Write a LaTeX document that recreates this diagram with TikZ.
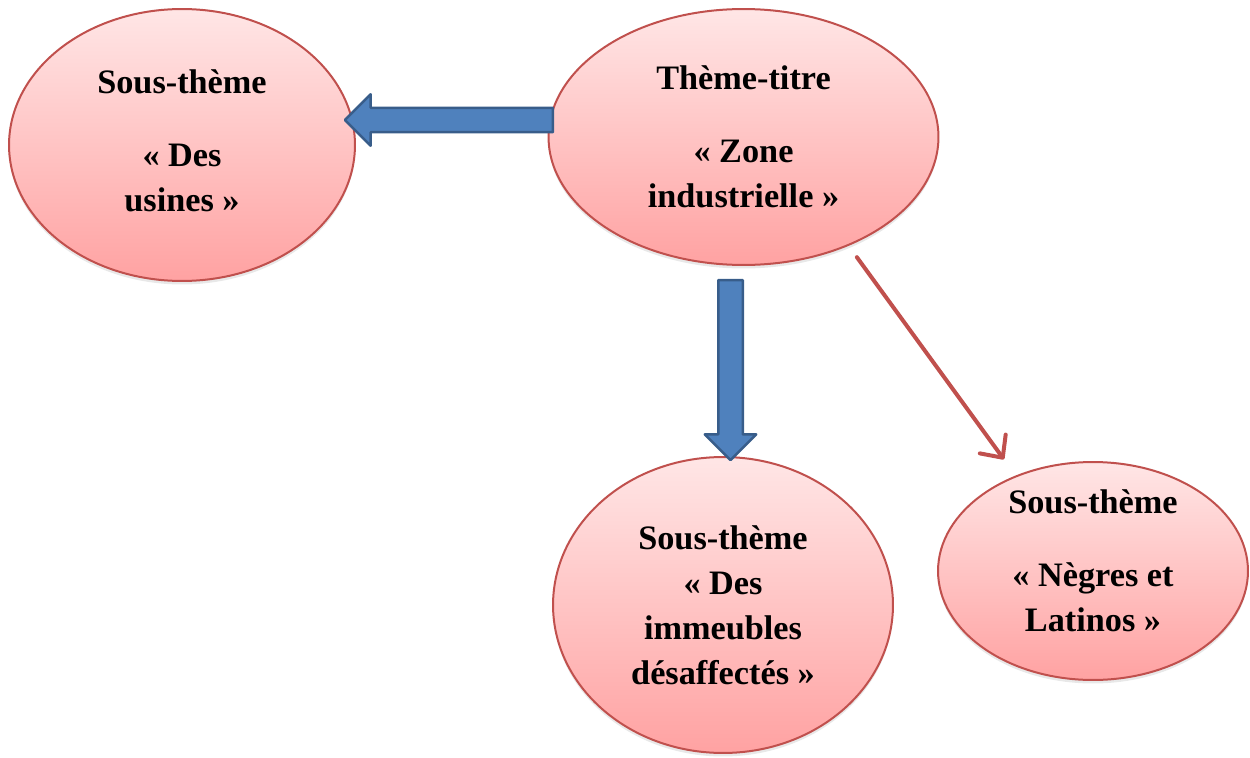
\documentclass[tikz,border=0pt]{standalone}
\usepackage{fontspec}
\setmainfont{Liberation Serif}
\usepackage{tikz}
\usetikzlibrary{arrows.meta, shapes.geometric, shapes.arrows, shadows}
\definecolor{bordrouge}{RGB}{192,80,77}
\definecolor{hautrose}{RGB}{255,230,230}
\definecolor{basrose}{RGB}{255,162,162}
\definecolor{fondbleu}{RGB}{79,129,189}
\definecolor{bordbleu}{RGB}{56,93,138}

\begin{document}
\begin{tikzpicture}[x=0.02cm, y=-0.02cm,
    theme/.style = {ellipse, draw=bordrouge, line width=0.04cm,
      top color=hautrose, bottom color=basrose, inner sep=0pt,
      align=center, font=\bfseries\fontsize{19.5}{25.6}\selectfont,
      drop shadow={opacity=0.18, shadow xshift=0pt, shadow yshift=-2pt}},
    bloc/.style    = {single arrow, draw=bordbleu, fill=fondbleu,
      line width=0.05cm, line join=round, inner xsep=0pt, inner ysep=0.22cm,
      single arrow head extend=0.27cm, single arrow head indent=0pt},
    fleche/.style  = {draw=bordrouge, line width=0.08cm, line cap=round,
      shorten <=0.28cm, shorten >=0.4cm,
      -{Straight Barb[length=0.34cm, width=0.64cm, round]}}
  ]
  \useasboundingbox (0,0) rectangle (1250,757);
  \node[theme, minimum width=6.92cm, minimum height=5.44cm, text depth=0.16cm] (usines) at (182,145)
    {Sous-thème\\[0.56cm]« Des\\usines »};
  \node[theme, minimum width=7.8cm, minimum height=5.12cm] (titre) at (743.5,137)
    {Thème-titre\\[0.56cm]« Zone\\industrielle »};
  \node[theme, minimum width=6.8cm, minimum height=5.92cm] (immeubles) at (723,605)
    {Sous-thème\\« Des\\immeubles\\désaffectés »};
  \node[theme, minimum width=6.2cm, minimum height=4.36cm, text depth=0.4cm, inner ysep=-0.3cm] (negres) at (1093,571)
    {Sous-thème\\[0.56cm]« Nègres et\\Latinos »};
  \node[bloc, rotate=180, minimum height=4.16cm] (verstitre) at (455,120) {};
  \node[bloc, rotate=270, minimum height=3.6cm] (versimm) at (730.5,364) {};
  \draw[fleche] (titre.-46) -- (negres.129);
\end{tikzpicture}
\end{document}
